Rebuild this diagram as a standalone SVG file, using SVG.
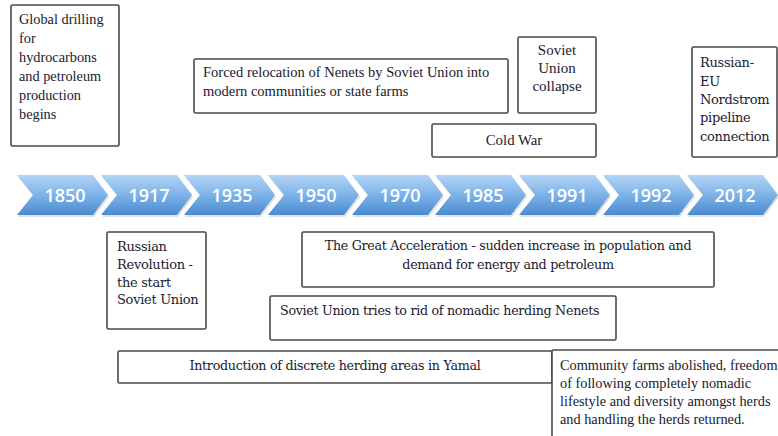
<svg xmlns="http://www.w3.org/2000/svg" width="778" height="436" viewBox="0 0 778 436">
<defs>
<linearGradient id="cg" x1="0" y1="0" x2="0" y2="1">
<stop offset="0" stop-color="#b3d4f5"/>
<stop offset="0.5" stop-color="#7db3e8"/>
<stop offset="1" stop-color="#4a8ad0"/>
</linearGradient>
<polygon id="chev" points="0,0 76,0 91,20 76,40 0,40 16,20"/>
</defs>
<style>
.box{fill:#fff;stroke:#4a4a4a;stroke-width:1.6}
.t{font-family:'Liberation Serif','Times New Roman',serif;fill:#1a1a2e}
.c{font-family:'DejaVu Serif','Liberation Serif',serif;fill:#1a1a2e;letter-spacing:-0.3px}
.yr{font-family:'Open Sans','Liberation Sans',sans-serif;font-size:18px;font-weight:600;fill:#fff;text-anchor:middle}
.sh{fill:#000;opacity:0.12}
</style>
<rect width="778" height="436" fill="#fff"/>
<g id="timeline">
<g transform="translate(17,175)"><use href="#chev" class="sh" transform="translate(1,2)"/><use href="#chev" fill="url(#cg)"/><text class="yr" x="48" y="27">1850</text></g>
<g transform="translate(101,175)"><use href="#chev" class="sh" transform="translate(1,2)"/><use href="#chev" fill="url(#cg)"/><text class="yr" x="48" y="27">1917</text></g>
<g transform="translate(184,175)"><use href="#chev" class="sh" transform="translate(1,2)"/><use href="#chev" fill="url(#cg)"/><text class="yr" x="48" y="27">1935</text></g>
<g transform="translate(268,175)"><use href="#chev" class="sh" transform="translate(1,2)"/><use href="#chev" fill="url(#cg)"/><text class="yr" x="48" y="27">1950</text></g>
<g transform="translate(352,175)"><use href="#chev" class="sh" transform="translate(1,2)"/><use href="#chev" fill="url(#cg)"/><text class="yr" x="48" y="27">1970</text></g>
<g transform="translate(435,175)"><use href="#chev" class="sh" transform="translate(1,2)"/><use href="#chev" fill="url(#cg)"/><text class="yr" x="48" y="27">1985</text></g>
<g transform="translate(519,175)"><use href="#chev" class="sh" transform="translate(1,2)"/><use href="#chev" fill="url(#cg)"/><text class="yr" x="48" y="27">1991</text></g>
<g transform="translate(603,175)"><use href="#chev" class="sh" transform="translate(1,2)"/><use href="#chev" fill="url(#cg)"/><text class="yr" x="48" y="27">1992</text></g>
<g transform="translate(687,175)"><use href="#chev" class="sh" transform="translate(1,2)"/><use href="#chev" fill="url(#cg)"/><text class="yr" x="48" y="27">2012</text></g>
</g>
<g id="connectors"></g>
<g id="n-drilling"><rect class="box" x="11" y="5" width="108" height="141" rx="1.5"/>
<text class="t" style="font-size:14.3px"><tspan x="19" y="24">Global drilling</tspan><tspan x="19" y="43">for</tspan><tspan x="19" y="62">hydrocarbons</tspan><tspan x="19" y="81">and petroleum</tspan><tspan x="19" y="100">production</tspan><tspan x="19" y="119">begins</tspan></text></g>
<g id="n-relocation"><rect class="box" x="194" y="59" width="314" height="54" rx="1.5"/>
<text class="t" style="font-size:14.5px"><tspan x="203" y="77">Forced relocation of Nenets by Soviet Union into</tspan><tspan x="203" y="96">modern communities or state farms</tspan></text></g>
<g id="n-collapse"><rect class="box" x="518" y="37" width="78" height="76" rx="1.5"/>
<text class="t" style="font-size:15px" text-anchor="middle"><tspan x="557" y="55">Soviet</tspan><tspan x="557" y="73">Union</tspan><tspan x="557" y="91">collapse</tspan></text></g>
<g id="n-coldwar"><rect class="box" x="432" y="124" width="164" height="33" rx="1.5"/>
<text class="t" style="font-size:14.8px" text-anchor="middle" x="514" y="145">Cold War</text></g>
<g id="n-nordstrom"><rect class="box" x="692" y="47" width="85" height="110" rx="1.5"/>
<text class="c" style="font-size:13px"><tspan x="700" y="67">Russian-</tspan><tspan x="700" y="86">EU</tspan><tspan x="700" y="104">Nordstrom</tspan><tspan x="700" y="122">pipeline</tspan><tspan x="700" y="141">connection</tspan></text></g>
<g id="n-revolution"><rect class="box" x="107" y="232" width="99" height="97" rx="1.5"/>
<text class="c" style="font-size:13px"><tspan x="117" y="251">Russian</tspan><tspan x="117" y="269">Revolution -</tspan><tspan x="117" y="287">the start</tspan><tspan x="117" y="304">Soviet Union</tspan></text></g>
<g id="n-acceleration"><rect class="box" x="302" y="232" width="412" height="55" rx="1.5"/>
<text class="c" style="font-size:12.7px" text-anchor="middle"><tspan x="508" y="250">The Great Acceleration - sudden increase in population and</tspan><tspan x="508" y="269">demand for energy and petroleum</tspan></text></g>
<g id="n-nomadic"><rect class="box" x="270" y="296" width="346" height="44" rx="1.5"/>
<text class="c" style="font-size:12.7px" x="280" y="315">Soviet Union tries to rid of nomadic herding Nenets</text></g>
<g id="n-yamal"><rect class="box" x="118" y="351" width="434" height="32" rx="1.5"/>
<text class="c" style="font-size:12.7px" text-anchor="middle" x="335" y="370">Introduction of discrete herding areas in Yamal</text></g>
<g id="n-community"><rect class="box" x="552" y="350" width="240" height="100" rx="1.5"/>
<text class="t" style="font-size:14.3px"><tspan x="560" y="370">Community farms abolished, freedom</tspan><tspan x="560" y="388">of following completely nomadic</tspan><tspan x="560" y="406">lifestyle and diversity amongst herds</tspan><tspan x="560" y="424">and handling the herds returned.</tspan></text></g>
</svg>
